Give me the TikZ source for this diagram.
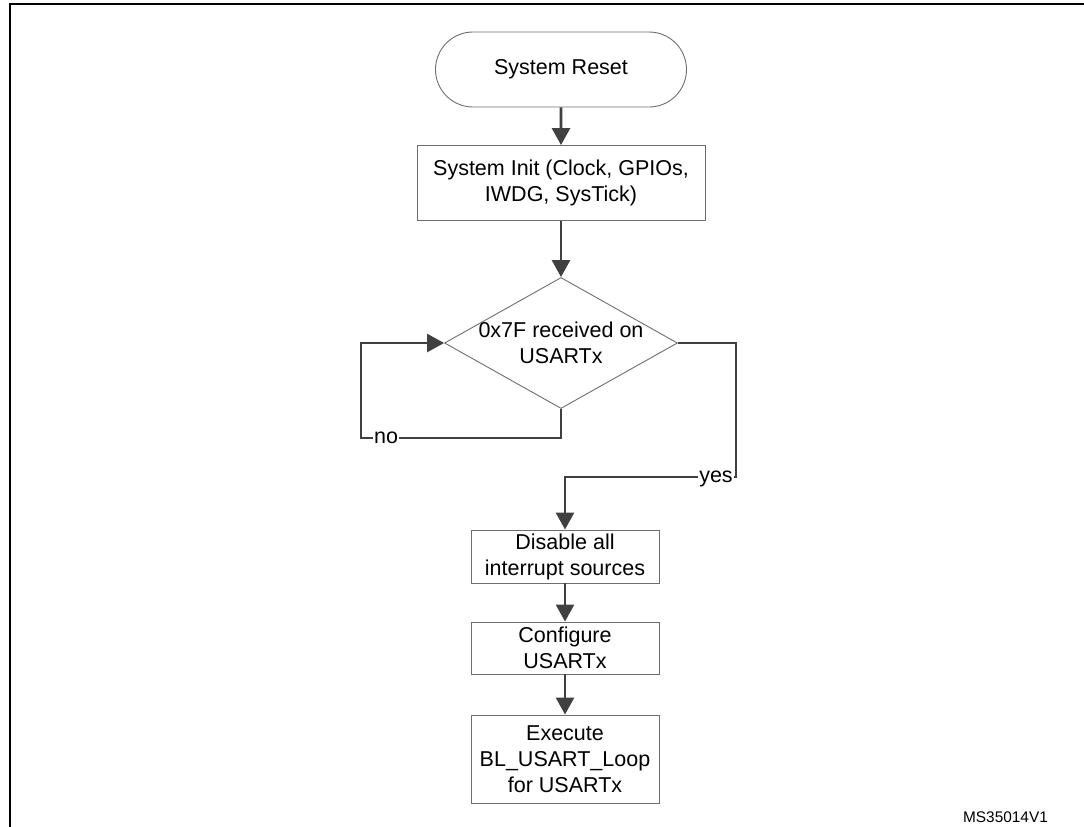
\documentclass[tikz,border=0pt]{standalone}
\usepackage{fontspec}
\setmainfont{Liberation Sans}
\usetikzlibrary{arrows.meta,shapes.geometric,shapes.misc}
\definecolor{linegray}{HTML}{404040}
\definecolor{boxgray}{HTML}{6E6E6E}
\begin{document}
\begin{tikzpicture}[x=1pt,y=-1pt,
  every node/.style={font=\fontsize{21.5}{26}\selectfont, align=center, inner sep=0pt},
  box/.style={draw=boxgray, line width=0.9pt, rectangle},
  term/.style={draw=boxgray, line width=0.9pt, rounded rectangle},
  decision/.style={draw=boxgray, line width=0.9pt, diamond,
                   minimum width=233pt, minimum height=131pt},
  flow/.style={draw=linegray, line width=2.8pt,
               -{Triangle[length=17pt,width=18pt]}},
  tag/.style={fill=white, inner xsep=1.5pt, inner ysep=0pt},
  small/.style={font=\fontsize{15.4}{18}\selectfont}
]
\useasboundingbox (0,0) rectangle (1084,827);

% frame
\draw[line width=2.2pt] (10,830) -- (10,4) -- (1090,4);

% flowchart blocks
\node[term, minimum width=251pt, minimum height=75pt] (reset) at (561,69.5) {System Reset};
\node[box, minimum width=288pt, minimum height=75pt] (init) at (561,183)
  {System Init (Clock, GPIOs,\\IWDG, SysTick)};
\node[decision] (dec) at (561,343) {};
\node (dectext) at (561,343) {0x7F received on\\USARTx};
\node[box, minimum width=188pt, minimum height=53pt] (disable) at (565,556.5)
  {Disable all\\interrupt sources};
\node[box, minimum width=188pt, minimum height=52pt] (config) at (565,648)
  {Configure\\USARTx};
\node[box, minimum width=188pt, minimum height=88pt] (exec) at (565,759)
  {Execute\\BL\_USART\_Loop\\for USARTx};

% connectors
\draw[flow] (reset) -- (init);
\draw[flow] (init) -- (dec);
\coordinate (nocorner) at (361,438);
\draw[flow] (dec.south) |- (nocorner) |- (dec.west);
\coordinate (yescorner) at (736,477);
\draw[flow] (dec.east) -| (yescorner) -| (disable.north);
\draw[flow] (disable) -- (config);
\draw[flow] (config) -- (exec);

% branch labels
\node[tag, anchor=base] (no) at (386,443.6) {no};
\node[tag, anchor=base] (yes) at (716,482.6) {yes};

% drawing code
\node[small] (code) at (1005.5,817) {MS35014V1};
\end{tikzpicture}
\end{document}
